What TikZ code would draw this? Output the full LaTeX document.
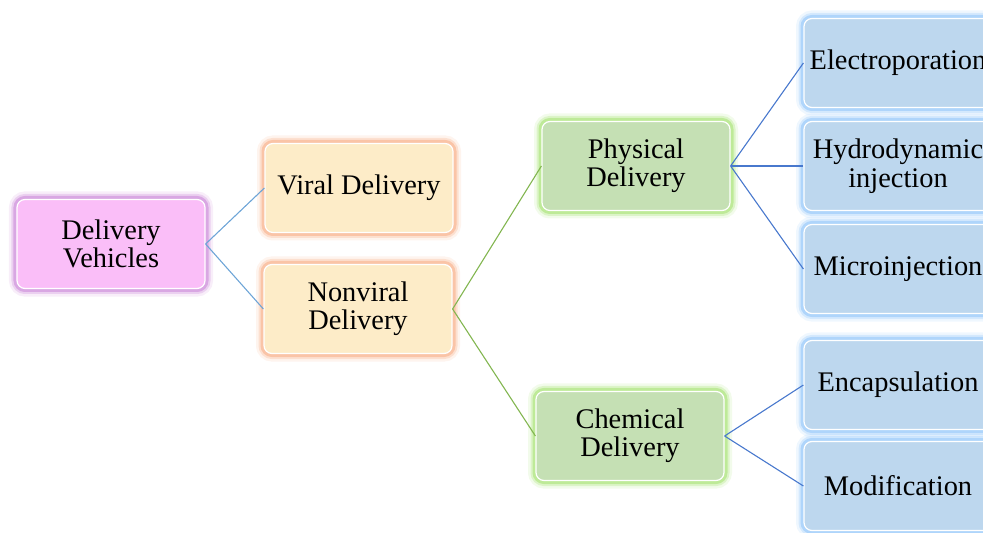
\documentclass[tikz,border=0pt]{standalone}
\usepackage{fontspec}
\setmainfont{Liberation Serif}
\definecolor{pinkfill}{RGB}{250,190,248}
\definecolor{pinkglow}{RGB}{205,140,218}
\definecolor{orangefill}{RGB}{253,236,200}
\definecolor{orangeglow}{RGB}{248,178,140}
\definecolor{greenfill}{RGB}{197,224,180}
\definecolor{greenglow}{RGB}{170,228,120}
\definecolor{bluefill}{RGB}{189,215,238}
\definecolor{blueglow}{RGB}{150,200,250}
\definecolor{lineone}{RGB}{110,165,215}
\definecolor{linetwo}{RGB}{130,182,80}
\definecolor{linethree}{RGB}{72,120,205}
\begin{document}
\begin{tikzpicture}[x=1bp,y=-1bp,
		box/.style={rounded corners=8bp,minimum width=188bp,minimum height=89bp,align=center,
			font=\fontsize{28.5}{28.5}\selectfont,draw=white,line width=1.2bp,
			preaction={draw=#1glow,line width=16bp,opacity=.15},
			preaction={draw=#1glow,line width=11bp,opacity=.3},
			preaction={draw=#1glow,line width=7bp,opacity=.6},
			fill=#1fill},
		link/.style={line width=1.1bp,draw=#1}]
	\useasboundingbox (0,0) rectangle (983,533);
	% first level
	\node[box=pink] (vehicles) at (111,244) {Delivery\\Vehicles};
	\node[box=orange] (viral) at (359,188) {Viral Delivery};
	\node[box=orange] (nonviral) at (358,309) {Nonviral\\Delivery};
	% nonviral branches
	\node[box=green] (physical) at (636,166) {Physical\\Delivery};
	\node[box=green] (chemical) at (630,436) {Chemical\\Delivery};
	% methods
	\node[box=blue] (electro) at (898,63) {Electroporation};
	\node[box=blue] (hydro) at (898,166) {Hydrodynamic\\injection};
	\node[box=blue] (micro) at (898,269) {Microinjection};
	\node[box=blue] (encaps) at (898,385) {Encapsulation};
	\node[box=blue] (modif) at (898,486) {Modification};
	% connectors
	\foreach \t in {viral,nonviral}{\draw[link=lineone] (vehicles.east) -- (\t.west);}
	\foreach \t in {physical,chemical}{\draw[link=linetwo] (nonviral.east) -- (\t.west);}
	\foreach \t in {electro,hydro,micro}{\draw[link=linethree] (physical.east) -- (\t.west);}
	\foreach \t in {encaps,modif}{\draw[link=linethree] (chemical.east) -- (\t.west);}
\end{tikzpicture}
\end{document}
